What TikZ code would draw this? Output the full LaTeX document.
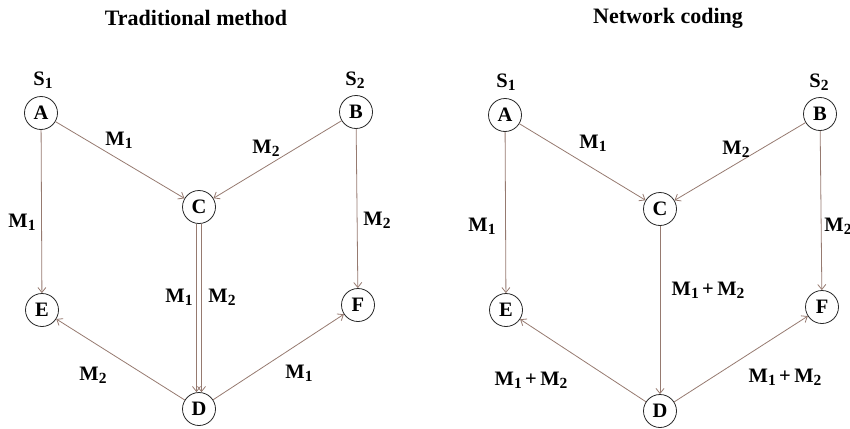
\documentclass[tikz,border=0pt]{standalone}
\usepackage{fontspec}
\setmainfont{Liberation Serif}
\usetikzlibrary{arrows.meta}
\definecolor{edgecol}{RGB}{150,122,112}
\definecolor{ringcol}{RGB}{40,40,40}
\newcommand\subs[1]{\raisebox{-0.14em}{\fontsize{15.5pt}{16pt}\selectfont #1}}
\begin{document}
\begin{tikzpicture}[x=1pt,y=-1pt,
  font=\fontsize{20.5pt}{24pt}\selectfont\bfseries,
  vtx/.style={circle,draw=ringcol,line width=0.8pt,minimum size=33pt,inner sep=0pt,fill=white},
  lbl/.style={inner sep=0pt},
  ttl/.style={inner sep=0pt,font=\fontsize{22pt}{26pt}\selectfont\bfseries},
  arr/.style={draw=edgecol,line width=0.8pt,-{Straight Barb[length=5pt,width=8pt]}}]
\useasboundingbox (0,0) rectangle (850,428);
% ---------- Traditional method ----------
\node[ttl] (t1) at (196,18) {Traditional method};
\node[vtx] (A) at (41,113) {A};
\node[vtx] (B) at (356,112) {B};
\node[vtx] (C) at (199,207) {C};
\node[vtx] (D) at (199,409) {D};
\node[vtx] (E) at (42,310) {E};
\node[vtx] (F) at (358,305) {F};
\node[lbl] (s1) at (43,80) {S\subs{1}};
\node[lbl] (s2) at (355,80) {S\subs{2}};
\draw[arr] (A) -- (C);
\draw[arr] (B) -- (C);
\draw[arr] (A) -- (E);
\draw[arr] (B) -- (F);
\draw[arr] ([xshift=-2.5pt]C.south) -- ([xshift=-2.5pt]D.north);
\draw[arr] ([xshift=2.5pt]C.south) -- ([xshift=2.5pt]D.north);
\draw[arr] (D) -- (E);
\draw[arr] (D) -- (F);
\node[lbl] (l1) at (119,140) {M\subs{1}};
\node[lbl] (l2) at (266,148) {M\subs{2}};
\node[lbl] (l3) at (22,222) {M\subs{1}};
\node[lbl] (l4) at (377,220) {M\subs{2}};
\node[lbl] (l5) at (179,297) {M\subs{1}};
\node[lbl] (l6) at (222,297) {M\subs{2}};
\node[lbl] (l7) at (93,375) {M\subs{2}};
\node[lbl] (l8) at (299,373) {M\subs{1}};
% ---------- Network coding ----------
\node[ttl] (t2) at (668,18) {Network coding};
\node[vtx] (A2) at (505,115) {A};
\node[vtx] (B2) at (820,114) {B};
\node[vtx] (C2) at (660,209) {C};
\node[vtx] (D2) at (660,411) {D};
\node[vtx] (E2) at (506,310) {E};
\node[vtx] (F2) at (822,307) {F};
\node[lbl] (s3) at (506,82) {S\subs{1}};
\node[lbl] (s4) at (819,82) {S\subs{2}};
\draw[arr] (A2) -- (C2);
\draw[arr] (B2) -- (C2);
\draw[arr] (A2) -- (E2);
\draw[arr] (B2) -- (F2);
\draw[arr] (C2) -- (D2);
\draw[arr] (D2) -- (E2);
\draw[arr] (D2) -- (F2);
\node[lbl] (r1) at (593,143) {M\subs{1}};
\node[lbl] (r2) at (736,149) {M\subs{2}};
\node[lbl] (r3) at (482,226) {M\subs{1}};
\node[lbl] (r4) at (838,226) {M\subs{2}};
\node[lbl] (r5) at (708,290) {M\subs{1}\,+\,M\subs{2}};
\node[lbl] (r6) at (531,380) {M\subs{1}\,+\,M\subs{2}};
\node[lbl] (r7) at (785,377) {M\subs{1}\,+\,M\subs{2}};
\end{tikzpicture}
\end{document}
